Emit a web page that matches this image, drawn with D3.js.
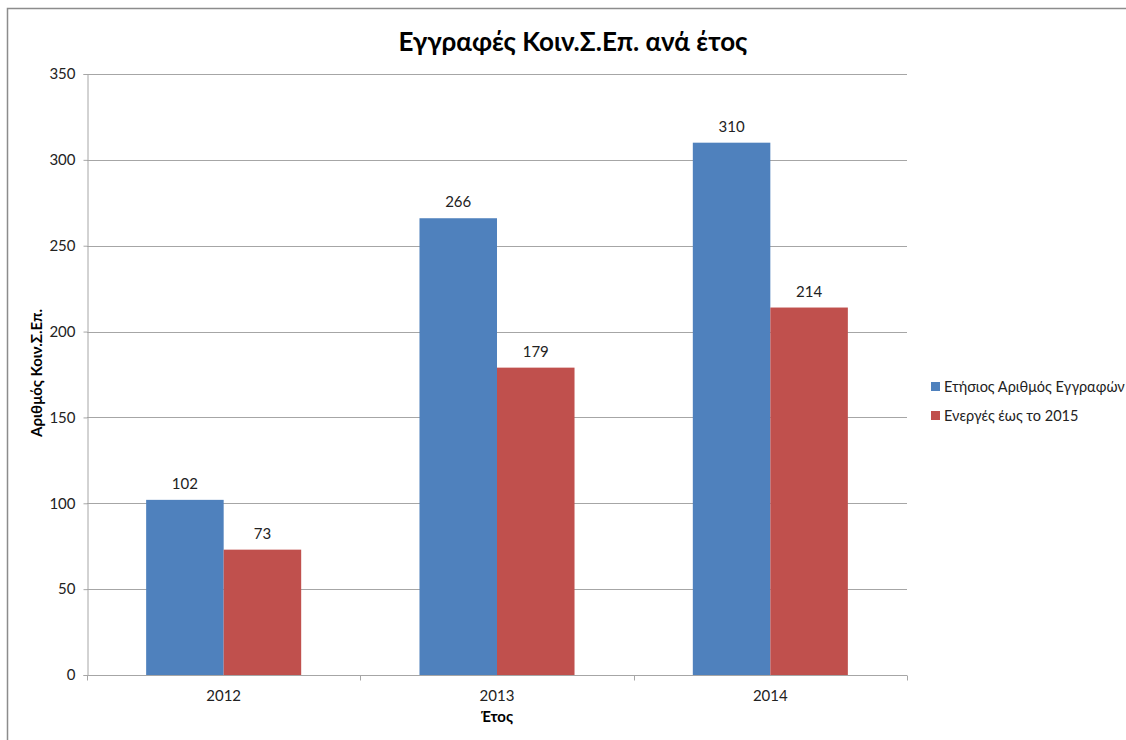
<!DOCTYPE html>
<html><head><meta charset="utf-8">
<script src="https://cdn.jsdelivr.net/npm/d3@7/dist/d3.min.js"></script>
<style>body{margin:0;background:#fff}svg{display:block}</style>
</head><body>
<svg id="c" width="1126" height="740"></svg>
<script>
const categories = ["2012", "2013", "2014"];
const seriesNames = ["Ετήσιος Αριθμός Εγγραφών", "Ενεργές έως το 2015"];
const annual = [102, 266, 310];
const active = [73, 179, 214];
const yTicks = [0, 50, 100, 150, 200, 250, 300, 350];
const colors = ["#4F81BD", "#C0504D"];

const svg = d3.select("#c");
const font = "Lato, Carlito, Calibri, sans-serif";
const margin = {left: 87, right: 1126 - 907, top: 74, bottom: 740 - 675};

// outer frame
svg.append("rect").attr("x", 7.5).attr("y", 8.5).attr("width", 1200).attr("height", 800)
  .attr("fill", "none").attr("stroke", "#8c8c8c").attr("stroke-width", 1.5);

const x0 = d3.scaleBand().domain(categories).range([margin.left, 907]).paddingInner(0).paddingOuter(0);
const x1 = d3.scaleBand().domain([0, 1]).range([0, x0.bandwidth()]).paddingInner(0).paddingOuter(0.763);
const y = d3.scaleLinear().domain([0, 350]).range([675, 74]);

// gridlines
svg.append("g").selectAll("line").data(yTicks.filter(d => d > 0)).join("line")
  .attr("x1", margin.left).attr("x2", 907).attr("y1", d => Math.round(y(d)) + 0.5).attr("y2", d => Math.round(y(d)) + 0.5)
  .attr("stroke", "#a6a6a6").attr("stroke-width", 1);

// bars
const data = categories.map((c, i) => ({c, vals: [annual[i], active[i]]}));
const g = svg.append("g");
data.forEach(d => {
  d.vals.forEach((v, s) => {
    const bx = x0(d.c) + x1(s);
    g.append("rect").attr("x", bx).attr("y", y(v)).attr("width", x1.bandwidth()).attr("height", y(0) - y(v))
      .attr("fill", colors[s]);
    g.append("text").attr("x", bx + x1.bandwidth() / 2).attr("y", y(v) - 11)
      .attr("text-anchor", "middle").attr("font-family", font).attr("font-size", 15).attr("fill", "#222").text(v);
  });
});

// y axis
const yAxis = d3.axisLeft(y).tickValues(yTicks).tickSize(4).tickPadding(8);
const ya = svg.append("g").attr("transform", `translate(${margin.left + 0.5},0)`).call(yAxis);
ya.select(".domain").attr("stroke", "#a6a6a6");
ya.selectAll(".tick line").attr("stroke", "#a6a6a6");
ya.selectAll(".tick text").attr("font-family", font).attr("font-size", 15).attr("fill", "#222");

// x axis
const xa = svg.append("g").attr("transform", `translate(0,${Math.round(y(0)) + 0.5})`);
xa.append("line").attr("x1", margin.left).attr("x2", 907).attr("stroke", "#a6a6a6");
const bounds = [margin.left, ...categories.map(c => x0(c) + x0.bandwidth())];
xa.selectAll("line.t").data(bounds).join("line").attr("class", "t")
  .attr("x1", d => Math.round(d) + 0.5).attr("x2", d => Math.round(d) + 0.5).attr("y1", 0).attr("y2", 5).attr("stroke", "#a6a6a6");
xa.selectAll("text").data(categories).join("text")
  .attr("x", d => x0(d) + x0.bandwidth() / 2).attr("y", 25)
  .attr("text-anchor", "middle").attr("font-family", font).attr("font-size", 15).attr("fill", "#222").text(d => d);

// titles
svg.append("text").attr("x", 573).attr("y", 51).attr("text-anchor", "middle")
  .attr("font-family", font).attr("font-weight", "bold").attr("font-size", 26).attr("fill", "#000")
  .text("Εγγραφές Κοιν.Σ.Επ. ανά έτος");
svg.append("text").attr("x", 497).attr("y", 722).attr("text-anchor", "middle")
  .attr("font-family", font).attr("font-weight", "bold").attr("font-size", 15).attr("fill", "#000").text("Έτος");
svg.append("text").attr("transform", "translate(42,373) rotate(-90)").attr("text-anchor", "middle")
  .attr("font-family", font).attr("font-weight", "bold").attr("font-size", 15).attr("fill", "#000").text("Αριθμός Κοιν.Σ.Επ.");

// legend
const lg = svg.append("g");
seriesNames.forEach((n, i) => {
  const ly = 387 + i * 29;
  lg.append("rect").attr("x", 931).attr("y", ly - 5).attr("width", 9).attr("height", 9).attr("fill", colors[i]);
  lg.append("text").attr("x", 944).attr("y", ly + 5).attr("font-family", font).attr("font-size", 14.5).attr("fill", "#222").text(n);
});
</script>
</body></html>
